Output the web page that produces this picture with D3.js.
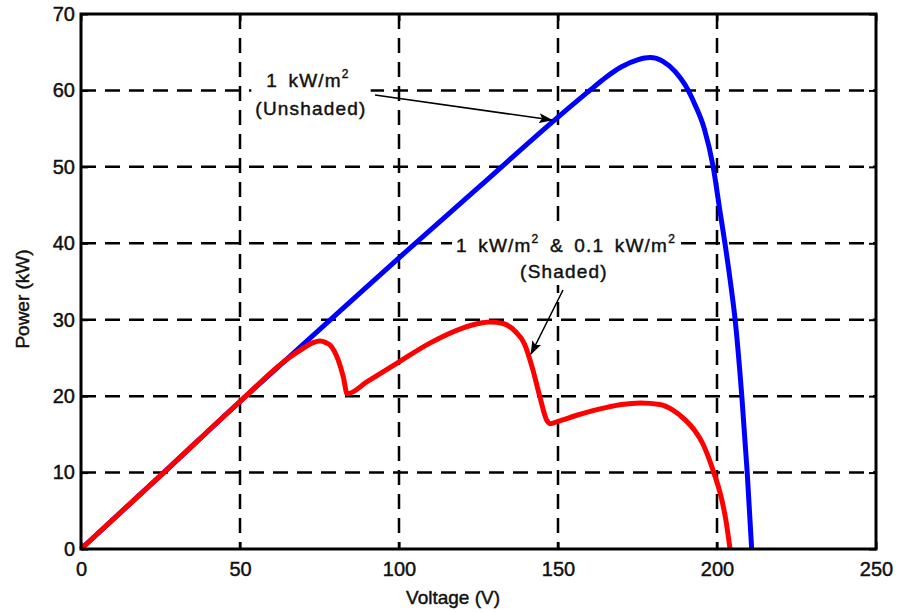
<!DOCTYPE html>
<html>
<head>
<meta charset="utf-8">
<script src="https://cdn.jsdelivr.net/npm/d3@7"></script>
<style>
  body { margin: 0; background: #fff; }
  text { font-family: "Liberation Sans", Arial, sans-serif; fill: #111; stroke: #111; stroke-width: 0.45px; }
</style>
</head>
<body>
<svg width="900" height="612"></svg>
<script>
// unshaded curve (1 kW/m2)
var blueV = [0, 25, 50, 75, 100, 125, 150, 160, 165, 170, 175, 179, 183, 187, 190, 193, 196, 198.8, 201, 202.5, 204.2, 205.7, 207.8, 209.5, 210.9];
var blueP = [0, 9.6, 19.3, 28.7, 38.1, 47.3, 56.5, 60, 61.7, 63.1, 64, 64.3, 63.8, 62.4, 60.7, 58.2, 55, 50, 44, 40, 35, 30, 20, 10, 0];

// shaded curve (1 kW/m2 & 0.1 kW/m2)
var redV = [0, 25, 50, 65, 70, 73, 75.2, 77, 78.3, 80.9, 82.5, 83.7, 90, 99.3, 110, 120, 125, 128.6, 132.7, 136.5, 139.5, 142, 144.3, 146.4, 147.5, 150, 155.9, 165, 170, 176, 182, 186, 190, 193, 195.5, 197.5, 199.4, 201, 202.7, 204.1];
var redP = [0, 9.6, 19.3, 24.9, 26.3, 27, 27.2, 27, 26.7, 24.7, 22.5, 20.3, 21.9, 24.3, 27, 28.9, 29.5, 29.7, 29.5, 28.5, 26.8, 23.6, 19.9, 16.9, 16.4, 16.7, 17.5, 18.5, 18.9, 19.1, 18.9, 18.2, 16.9, 15.5, 13.8, 11.8, 9.5, 7.3, 4, 0];

var xTicks = [0, 50, 100, 150, 200, 250];
var yTicks = [0, 10, 20, 30, 40, 50, 60, 70];

var svg = d3.select("svg");
var margin = {top: 14, right: 24, bottom: 63, left: 81};
var width = +svg.attr("width") - margin.left - margin.right;
var height = +svg.attr("height") - margin.top - margin.bottom;

var g = svg.append("g")
  .attr("transform", "translate(" + margin.left + "," + margin.top + ")");

var x = d3.scaleLinear().domain([0, 250]).range([0, width]);
var y = d3.scaleLinear().domain([0, 70]).range([height, 0]);

// dashed grid
g.append("g").selectAll("line")
  .data(xTicks.slice(1, -1)).enter()
  .append("line")
  .attr("x1", function(d) { return x(d); })
  .attr("x2", function(d) { return x(d); })
  .attr("y1", 0).attr("y2", height)
  .attr("stroke", "#000").attr("stroke-width", 2.5)
  .attr("stroke-dasharray", "15,9");

g.append("g").selectAll("line")
  .data(yTicks.slice(1, -1)).enter()
  .append("line")
  .attr("y1", function(d) { return y(d); })
  .attr("y2", function(d) { return y(d); })
  .attr("x1", 0).attr("x2", width)
  .attr("stroke", "#000").attr("stroke-width", 2.5)
  .attr("stroke-dasharray", "15,9");

// axes (labels outside, short ticks inside)
var xAxis = g.append("g")
  .attr("transform", "translate(0," + height + ")")
  .call(d3.axisBottom(x).tickValues(xTicks).tickSize(-7).tickPadding(13));
var yAxis = g.append("g")
  .call(d3.axisLeft(y).tickValues(yTicks).tickSize(-7).tickPadding(13));
g.append("g").call(d3.axisTop(x).tickValues(xTicks).tickSize(-7).tickFormat(""));
g.append("g").attr("transform", "translate(" + width + ",0)")
  .call(d3.axisRight(y).tickValues(yTicks).tickSize(-7).tickFormat(""));

g.selectAll(".domain").remove();
g.selectAll(".tick line").attr("stroke", "#000").attr("stroke-width", 2);
g.selectAll(".tick text")
  .style("font-family", "'Liberation Sans', Arial, sans-serif")
  .style("font-size", "20px")
  .attr("fill", "#111");
yAxis.selectAll(".tick text").attr("x", -6);

// curves
var line = d3.line()
  .x(function(d) { return x(d[0]); })
  .y(function(d) { return y(d[1]); })
  .curve(d3.curveMonotoneX);

g.append("path")
  .datum(d3.zip(blueV, blueP))
  .attr("fill", "none").attr("stroke", "#0000ff")
  .attr("stroke-width", 5).attr("stroke-linejoin", "round")
  .attr("d", line);

g.append("path")
  .datum(d3.zip(redV, redP))
  .attr("fill", "none").attr("stroke", "#ff0000")
  .attr("stroke-width", 5).attr("stroke-linejoin", "round")
  .attr("d", line);

// frame
g.append("rect")
  .attr("width", width).attr("height", height)
  .attr("fill", "none").attr("stroke", "#000").attr("stroke-width", 3);

// axis titles
svg.append("text")
  .attr("x", margin.left + x(117)).attr("y", 604)
  .attr("text-anchor", "middle")
  .style("font-size", "19px")
  .text("Voltage (V)");

svg.append("text")
  .attr("transform", "translate(29,299) rotate(-90)")
  .attr("text-anchor", "middle")
  .style("font-size", "19px")
  .text("Power (kW)");

// annotations
svg.append("defs").append("marker")
  .attr("id", "head")
  .attr("viewBox", "0 0 14 10")
  .attr("refX", 13).attr("refY", 5)
  .attr("markerWidth", 14).attr("markerHeight", 10)
  .attr("markerUnits", "userSpaceOnUse")
  .attr("orient", "auto")
  .append("path").attr("d", "M0,0 L14,5 L0,10 L3,5 Z").attr("fill", "#000");

function label(box, cx, by, parts) {
  var t = box.append("text")
    .attr("x", cx).attr("y", by)
    .attr("text-anchor", "middle")
    .style("font-size", "19px")
    .style("letter-spacing", "1.2px")
    .style("word-spacing", "4px");
  var shift = 0;
  parts.forEach(function(p) {
    if (p.sup) {
      t.append("tspan").attr("dy", -9).style("font-size", "12px").text(p.sup);
      shift = 9;
    } else {
      t.append("tspan").attr("dy", shift).text(p.s);
      shift = 0;
    }
  });
}

function note(lines) {
  var box = svg.append("g");
  lines.forEach(function(l) { label(box, l[0], l[1], l[2]); });
  var b = box.node().getBBox();
  box.insert("rect", "text")
    .attr("x", b.x - 4).attr("y", b.y - 3)
    .attr("width", b.width + 8).attr("height", b.height + 6)
    .attr("fill", "#fff");
}

note([
  [308, 87, [{s: "1 kW/m"}, {sup: "2"}]],
  [311, 115, [{s: "(Unshaded)"}]]
]);
note([
  [566, 252, [{s: "1 kW/m"}, {sup: "2"}, {s: " & 0.1 kW/m"}, {sup: "2"}]],
  [564, 278, [{s: "(Shaded)"}]]
]);

svg.append("line")
  .attr("x1", 375).attr("y1", 95).attr("x2", 552).attr("y2", 120)
  .attr("stroke", "#000").attr("stroke-width", 1.6)
  .attr("marker-end", "url(#head)");

svg.append("line")
  .attr("x1", 563).attr("y1", 290).attr("x2", 531).attr("y2", 354)
  .attr("stroke", "#000").attr("stroke-width", 1.6)
  .attr("marker-end", "url(#head)");
</script>
</body>
</html>
